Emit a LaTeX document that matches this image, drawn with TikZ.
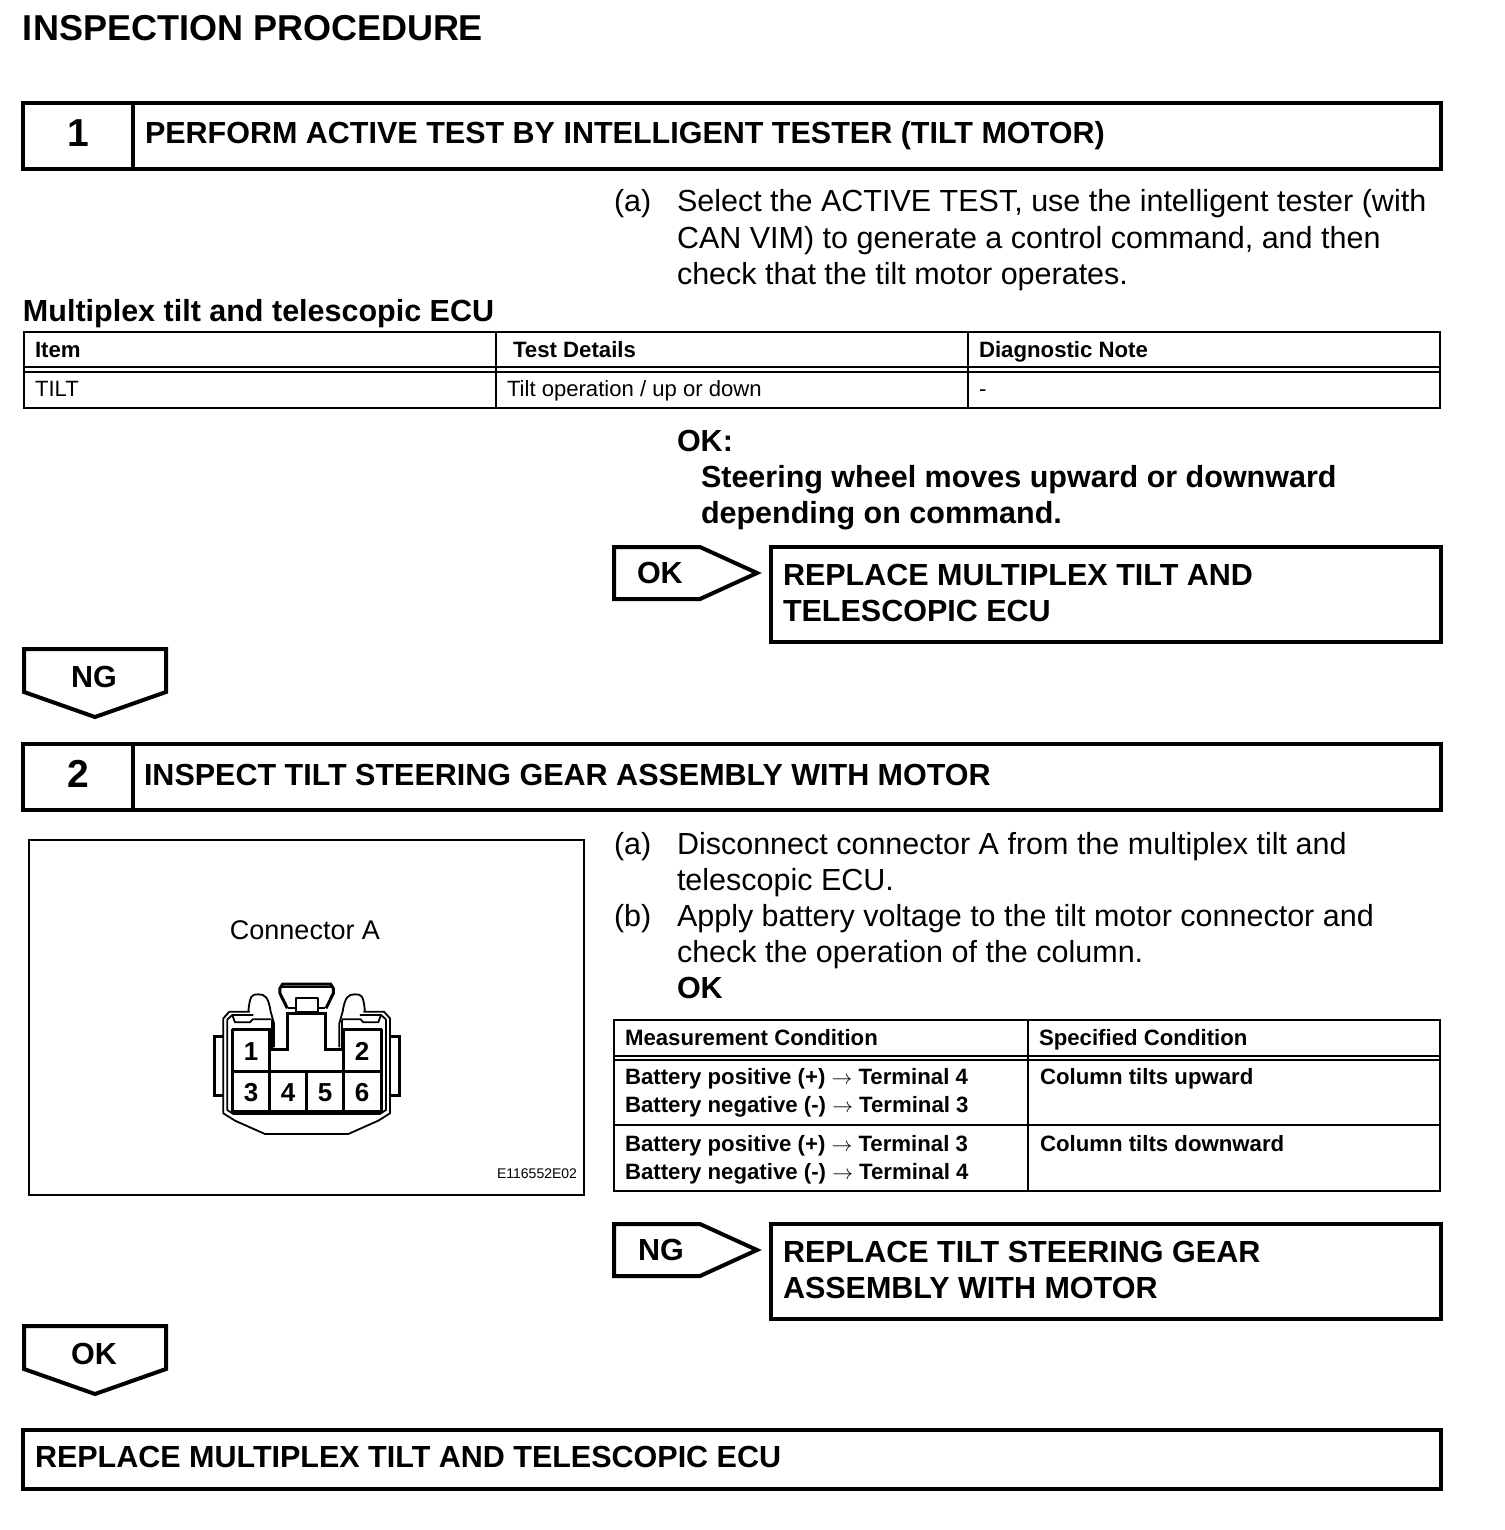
\documentclass[tikz,border=0pt]{standalone}
\usepackage{fontspec}
\setmainfont{Liberation Sans}
\tikzset{
  x=1pt,y=-1pt,
  txt/.style={anchor=base west,inner sep=0pt,outer sep=0pt,text=black},
  body/.style={txt,font=\fontsize{30.5}{36}\selectfont},
  bbody/.style={txt,font=\fontsize{30.5}{36}\selectfont\bfseries},
  head/.style={txt,font=\fontsize{30.5}{36}\selectfont\bfseries},
  cell/.style={txt,font=\fontsize{22.1}{28}\selectfont},
  bcell/.style={txt,font=\fontsize{22.2}{28}\selectfont\bfseries},
  num/.style={anchor=base,inner sep=0pt,font=\fontsize{39}{44}\selectfont\bfseries},
  pin/.style={anchor=base,inner sep=0pt,font=\fontsize{26}{30}\selectfont\bfseries},
  heavy/.style={draw=black,line width=4pt,line join=miter},
  medium/.style={draw=black,line width=4pt,line join=miter},
  rule/.style={draw=black,line width=2.6pt},
  conn/.style={draw=black,line width=1.8pt,line join=round},
  connb/.style={draw=black,line width=3pt,line join=miter},
}
\begin{document}
\begin{tikzpicture}
\useasboundingbox (0,0) rectangle (1504,1530);
\node[txt,font=\fontsize{36}{40}\selectfont\bfseries] (title) at (23,41) {INSPECTION PROCEDURE};
% Step 1
\draw[heavy] (23,103) rectangle (1441,169) (133,103) -- (133,169);
\node[num] (n1) at (78,147) {1};
\node[head] (h1) at (145,144) {PERFORM ACTIVE TEST BY INTELLIGENT TESTER (TILT MOTOR)};
\node[body] (a1) at (614,212) {(a)};
\node[body] (a1l1) at (677,212) {Select the ACTIVE TEST, use the intelligent tester (with};
\node[body] (a1l2) at (677,249) {CAN VIM) to generate a control command, and then};
\node[body] (a1l3) at (677,284) {check that the tilt motor operates.};
\node[bbody] (ecu) at (23,321) {Multiplex tilt and telescopic ECU};
% Table 1
\draw[rule] (24,332) rectangle (1440,408);
\draw[rule] (24,367) -- (1440,367) (24,372) -- (1440,372);
\draw[rule] (496,332) -- (496,408) (968,332) -- (968,408);
\node[bcell] (t1a) at (35,357) {Item};
\node[bcell] (t1b) at (513,357) {Test Details};
\node[bcell] (t1c) at (979,357) {Diagnostic Note};
\node[cell] (t1d) at (35,396) {TILT};
\node[cell] (t1e) at (507,396) {Tilt operation / up or down};
\node[cell] (t1f) at (979,396) {-};
\node[bbody] (ok1) at (677,451) {OK:};
\node[bbody] (ok2) at (701,487) {Steering wheel moves upward or downward};
\node[bbody] (ok3) at (701,523) {depending on command.};
% OK arrow
\draw[medium] (614,547) -- (700,547) -- (757,573) -- (700,599) -- (614,599) -- cycle;
\node[bbody] (okt) at (637,583) {OK};
\draw[heavy] (771,547) rectangle (1441,642);
\node[head] (r1) at (783,585) {REPLACE MULTIPLEX TILT AND};
\node[head] (r2) at (783,621) {TELESCOPIC ECU};
% NG down
\draw[medium] (24,649) -- (166,649) -- (166,692) -- (95,717) -- (24,692) -- cycle;
\node[bbody,anchor=base] (ngd) at (94,687) {NG};
% Step 2
\draw[heavy] (23,744) rectangle (1441,810) (133,744) -- (133,810);
\node[num] (n2) at (78,787) {2};
\node[head] (h2) at (144,785) {INSPECT TILT STEERING GEAR ASSEMBLY WITH MOTOR};
\node[body] (b1) at (614,854) {(a)};
\node[body] (b1l1) at (677,854) {Disconnect connector A from the multiplex tilt and};
\node[body] (b1l2) at (677,890) {telescopic ECU.};
\node[body] (b2) at (614,926) {(b)};
\node[body] (b2l1) at (677,926) {Apply battery voltage to the tilt motor connector and};
\node[body] (b2l2) at (677,962) {check the operation of the column.};
\node[bbody] (b2l3) at (677,998) {OK};
% Figure
\draw[rule] (29,840) rectangle (584,1195);
\node[txt,anchor=base,font=\fontsize{27}{30}\selectfont] (ca) at (305,939) {Connector A};
\node[txt,anchor=base east,font=\fontsize{14}{16}\selectfont] (fig) at (577,1178) {E116552E02};
\begin{scope}[shift={(200,960)},x=0.3333pt,y=-0.3333pt]
  % outer shell
  \draw[conn] (150,155) -- (88,155) -- (70,175) -- (70,460) -- (105,482) -- (195,522) -- (445,522) -- (535,482) -- (570,460) -- (570,175) -- (552,155) -- (490,155);
  \draw[conn] (82,178) -- (82,450) -- (100,462) -- (540,462) -- (558,450) -- (558,178);
  \draw[conn] (82,178) -- (97,165) -- (160,165) (558,178) -- (543,165) -- (480,165);
  \draw[conn] (97,165) -- (105,187) -- (150,187) -- (158,178) -- (215,178);
  \draw[conn] (543,165) -- (535,187) -- (490,187) -- (482,178) -- (425,178);
  % side tabs
  \draw[connb] (70,230) -- (42,230) -- (42,408) -- (70,408);
  \draw[connb] (570,230) -- (598,230) -- (598,408) -- (570,408);
  % latches
  \draw[conn] (145,155) .. controls (150,105) and (155,103) .. (175,103) .. controls (195,103) and (205,110) .. (212,155) -- (222,190) -- (222,262);
  \draw[conn] (495,155) .. controls (490,105) and (485,103) .. (465,103) .. controls (445,103) and (435,110) .. (428,155) -- (418,190) -- (418,262);
  % notch
  \draw[connb] (210,268) -- (264,268) -- (264,160) -- (376,160) -- (376,268) -- (432,268);
  \draw[conn] (215,180) -- (215,265) (425,180) -- (425,265);
  % top key
  \draw[conn] (264,145) -- (287,145) -- (287,115) -- (353,115) -- (353,145) -- (376,145);
  \draw[conn] (287,155) -- (353,155) (353,145) -- (353,155) (287,145) -- (287,155);
  \draw[connb] (262,145) -- (240,100) -- (240,85) -- (248,72) -- (392,72) -- (400,85) -- (400,100) -- (378,145);
  \draw[conn] (245,82) -- (395,82);
  % cavities
  \draw[connb] (97,207) -- (210,207) -- (210,455) (432,455) -- (432,207) -- (545,207);
  \draw[connb] (97,207) -- (97,455) -- (545,455) -- (545,207);
  \draw[connb] (97,335) -- (545,335) (320,335) -- (320,455);
\end{scope}
\node[pin] (p1) at (251,1060) {1};
\node[pin] (p2) at (362,1060) {2};
\node[pin] (p3) at (251,1101) {3};
\node[pin] (p4) at (288,1101) {4};
\node[pin] (p5) at (325,1101) {5};
\node[pin] (p6) at (362,1101) {6};
% Table 2
\draw[rule] (614,1020) rectangle (1440,1191);
\draw[rule] (614,1056) -- (1440,1056) (614,1060) -- (1440,1060) (614,1125) -- (1440,1125);
\draw[rule] (1028,1020) -- (1028,1191);
\node[bcell] (t2a) at (625,1045) {Measurement Condition};
\node[bcell] (t2b) at (1039,1045) {Specified Condition};
\node[bcell] (t2c) at (625,1084) {Battery positive (+) $\rightarrow$ Terminal 4};
\node[bcell] (t2d) at (625,1112) {Battery negative (-) $\rightarrow$ Terminal 3};
\node[bcell] (t2e) at (1040,1084) {Column tilts upward};
\node[bcell] (t2f) at (625,1151) {Battery positive (+) $\rightarrow$ Terminal 3};
\node[bcell] (t2g) at (625,1179) {Battery negative (-) $\rightarrow$ Terminal 4};
\node[bcell] (t2h) at (1040,1151) {Column tilts downward};
% NG arrow
\draw[medium] (614,1224) -- (700,1224) -- (757,1250) -- (700,1276) -- (614,1276) -- cycle;
\node[bbody] (ngt) at (638,1260) {NG};
\draw[heavy] (771,1224) rectangle (1441,1319);
\node[head] (r3) at (783,1262) {REPLACE TILT STEERING GEAR};
\node[head] (r4) at (783,1298) {ASSEMBLY WITH MOTOR};
% OK down
\draw[medium] (24,1326) -- (166,1326) -- (166,1369) -- (95,1394) -- (24,1369) -- cycle;
\node[bbody,anchor=base] (okd) at (94,1364) {OK};
% Final
\draw[heavy] (23,1430) rectangle (1441,1489);
\node[head] (fin) at (35,1467) {REPLACE MULTIPLEX TILT AND TELESCOPIC ECU};
\end{tikzpicture}
\end{document}
